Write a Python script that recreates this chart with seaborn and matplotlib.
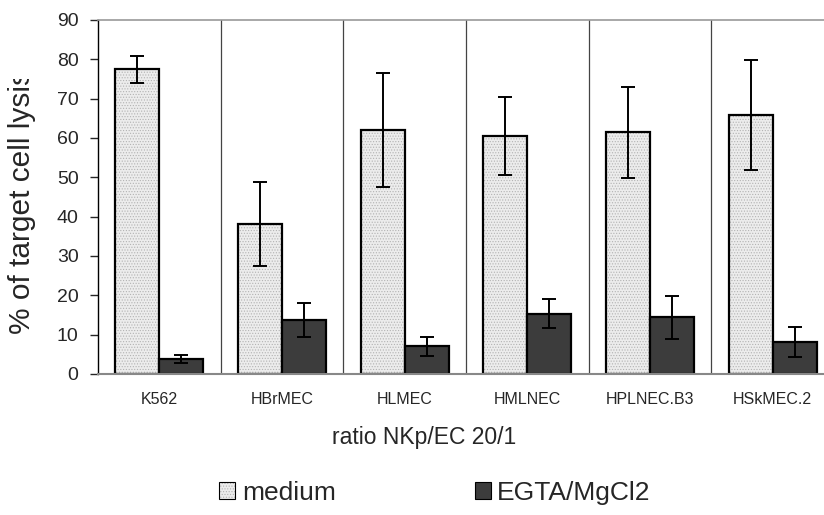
import matplotlib
matplotlib.use("Agg")
import matplotlib.pyplot as plt
from matplotlib.transforms import Bbox, TransformedBbox
from matplotlib.patches import Patch
import seaborn as sns
import pandas as pd
import numpy as np

cell_lines = ["K562", "HBrMEC", "HLMEC", "HMLNEC", "HPLNEC.B3", "HSkMEC.2"]
medium = [77.5, 38.2, 62.1, 60.4, 61.4, 65.9]
medium_err = [3.4, 10.7, 14.5, 9.9, 11.5, 14.0]
egta = [3.8, 13.7, 7.1, 15.3, 14.4, 8.1]
egta_err = [1.0, 4.3, 2.4, 3.7, 5.5, 3.8]
conditions = ["medium", "EGTA/MgCl2"]

df = pd.DataFrame({
    "line": cell_lines * 2,
    "condition": [conditions[0]] * 6 + [conditions[1]] * 6,
    "lysis": medium + egta,
})

sns.set_style("white")
plt.rcParams["font.family"] = ["Liberation Sans", "DejaVu Sans"]
plt.rcParams["hatch.linewidth"] = 0.5

fig = plt.figure(figsize=(8.24, 5.15), dpi=100)
# plot area runs past the right edge of the figure
ax = fig.add_axes([98 / 824, 1 - 374 / 515, 736 / 824, 354 / 515])

colors = {"medium": "#ececec", "EGTA/MgCl2": "#3c3c3c"}
hatch_colors = {"medium": (0.70, 0.70, 0.70, 1), "EGTA/MgCl2": (0.24, 0.24, 0.24, 1)}
sns.barplot(data=df, x="line", y="lysis", hue="condition", palette=colors,
            order=cell_lines, hue_order=conditions, width=0.72,
            edgecolor="black", linewidth=1.6, errorbar=None, ax=ax,
            legend=False, saturation=1)

bars = ax.patches[:12]
for i, p in enumerate(bars):
    p.set_hatch("......")
    p._hatch_color = hatch_colors[conditions[i // 6]]

mx = [b.get_x() + b.get_width() / 2 for b in bars[:6]]
ex = [b.get_x() + b.get_width() / 2 for b in bars[6:12]]
ax.errorbar(mx, medium, yerr=medium_err, fmt="none", ecolor="black",
            elinewidth=1.4, capsize=5, capthick=1.4, zorder=5)
ax.errorbar(ex, egta, yerr=egta_err, fmt="none", ecolor="black",
            elinewidth=1.4, capsize=5, capthick=1.4, zorder=5)

ax.set_ylim(0, 90)
ax.set_xlim(-0.5, 5.5)
ax.set_yticks(range(0, 91, 10))
ax.tick_params(axis="y", direction="out", length=6, width=1, labelsize=14,
               left=True, pad=8)
ax.tick_params(axis="x", length=0, labelsize=11.5, pad=13)

for b in np.arange(0.5, 5.5, 1):
    ax.axvline(b, color="#444444", linewidth=0.9, zorder=0)

ax.spines["right"].set_visible(False)
ax.spines["top"].set_color("#999999")
ax.spines["top"].set_linewidth(1.2)
ax.spines["left"].set_color("black")
ax.spines["left"].set_linewidth(1.0)
ax.spines["bottom"].set_color("#888888")
ax.spines["bottom"].set_linewidth(1.5)

xlab = ax.set_xlabel("ratio NKp/EC 20/1", fontsize=16.5)
ax.xaxis.set_label_coords(424 / 824, 1 - 426 / 515, transform=fig.transFigure)

# the axis title is longer than its box, so its end is cut off
ylab = ax.set_ylabel("% of target cell lysis", fontsize=21.5)
ax.yaxis.set_label_coords(8 / 824, 1 - 334 / 515, transform=fig.transFigure)
ylab.set_rotation_mode("default")
ylab.set_ha("left")
ylab.set_va("bottom")
clip = TransformedBbox(Bbox([[0, 0], [1, 1 - 79 / 515]]), fig.transFigure)
ylab.set_clip_box(clip)
ylab.set_clip_on(True)

handles = []
for c in conditions:
    h = Patch(facecolor=colors[c], edgecolor="black", hatch="......", linewidth=0.8)
    h._hatch_color = hatch_colors[c]
    handles.append(h)
fig.legend(handles, conditions, loc="center", bbox_to_anchor=(435 / 824, 1 - 493 / 515),
           ncol=2, frameon=False, fontsize=19, handlelength=0.6,
           handleheight=0.6, handletextpad=0.25, columnspacing=5.27)

fig.savefig("out.png", dpi=100)
